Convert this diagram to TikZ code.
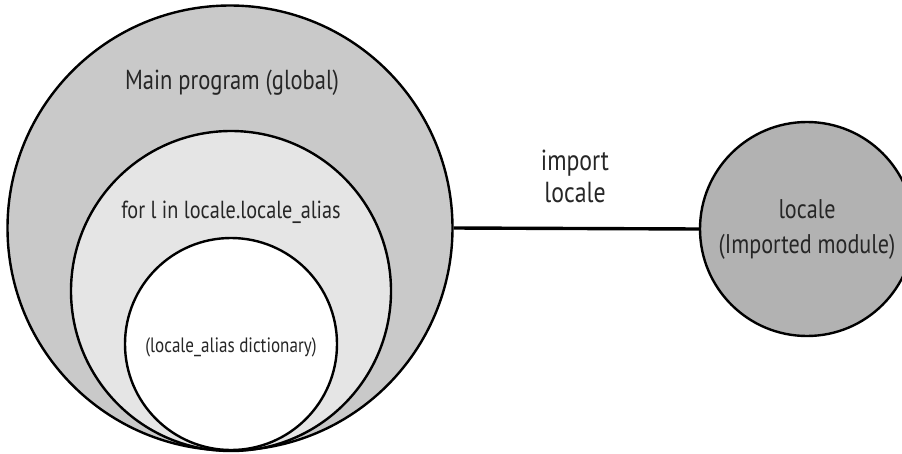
\documentclass[tikz,border=0pt]{standalone}
\usepackage{fontspec}
\setmainfont{PT Sans}[FakeStretch=0.82]
\begin{document}
\begin{tikzpicture}[x=1pt,y=-1pt,
  ring/.style={circle,draw=black,line width=2.4pt,inner sep=0pt},
  lbl/.style={text=black!85,align=center}]
\useasboundingbox (0,0) rectangle (902,453);
% nested scopes, all touching at the bottom
\node[ring,fill=black!21,minimum size=445pt] (main) at (230,228) {};
\node[ring,fill=black!10,minimum size=320pt] (loop) at (231,291) {};
\node[ring,fill=white,minimum size=212pt] (dict) at (231,344) {};
% imported module
\node[ring,fill=black!30,minimum size=214pt] (mod) at (807,229) {};
% import connector
\draw[line width=3.4pt] (main.east) -- (mod.west);
% labels
\node[lbl,font=\fontsize{27.5}{33}\selectfont] (tmain) at (232,83) {Main program (global)};
\node[lbl,font=\fontsize{24.7}{30}\selectfont] (tloop) at (231,212) {for l in locale.locale\_alias};
\node[lbl,font=\fontsize{20.8}{26}\selectfont] (tdict) at (231,347) {(locale\_alias dictionary)};
\node[lbl,font=\fontsize{29}{32}\selectfont] (timp) at (575,176) {import\\locale};
\node[lbl,font=\fontsize{27}{35}\selectfont] (tmod) at (807,230) {locale\\(Imported module)};
\end{tikzpicture}
\end{document}
